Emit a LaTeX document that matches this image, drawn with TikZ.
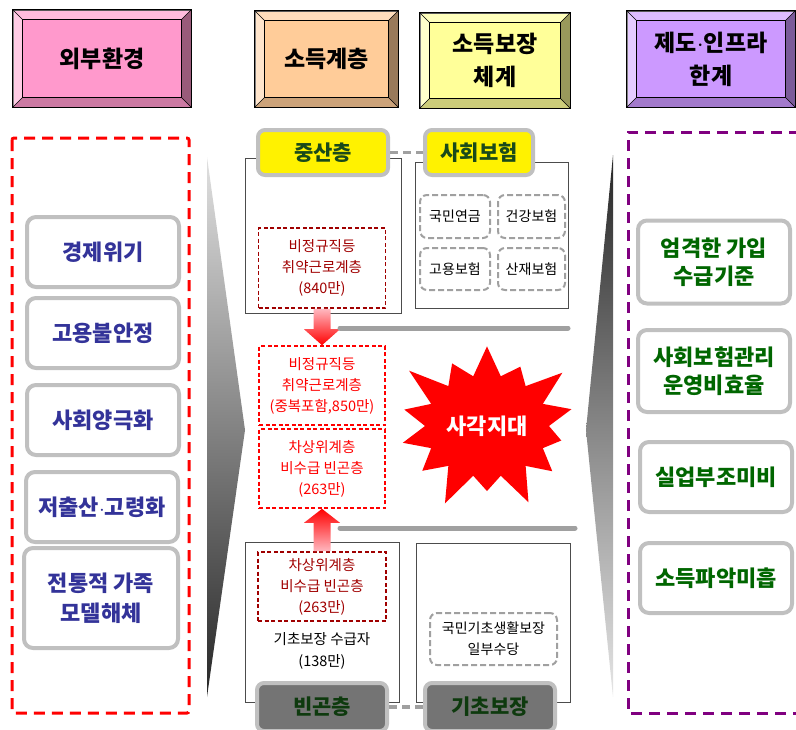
\documentclass[tikz,border=0pt]{standalone}
\usepackage{fontspec}
\setmainfont{Noto Sans CJK KR}
\usetikzlibrary{shapes.symbols,calc}
\definecolor{envpink}{HTML}{FF99CC}
\definecolor{incorange}{HTML}{FFCC99}
\definecolor{secyellow}{HTML}{FFFF99}
\definecolor{instpurple}{HTML}{CC99FF}
\definecolor{frame}{HTML}{C0C0C0}
\definecolor{envblue}{HTML}{333399}
\definecolor{limgreen}{HTML}{006600}
\definecolor{tiergreen}{HTML}{1A4A1A}
\definecolor{darkgreen}{HTML}{0E3A0E}
\definecolor{darkred}{HTML}{A00000}
\definecolor{dashgray}{HTML}{A0A0A0}
\definecolor{poorgray}{HTML}{747474}
\definecolor{arrowpink}{HTML}{FFB8C0}
\definecolor{violet}{HTML}{800080}

\begin{document}
\begin{tikzpicture}[x=1pt,y=-1pt,
  hdr/.style={draw=black,line width=0.6pt,align=center,inner sep=0pt,font=\fontsize{23}{33}\selectfont\bfseries},
  envbox/.style={draw=frame,line width=4pt,rounded corners=9pt,fill=white,minimum width=152pt,minimum height=70pt,align=center,text=envblue,font=\fontsize{22}{29}\selectfont\bfseries},
  limbox/.style={envbox,text=limgreen},
  layer/.style={draw=black!70,line width=0.8pt},
  tier/.style={draw=frame,line width=4pt,rounded corners=7pt,minimum height=45pt,font=\fontsize{21}{24}\selectfont\bfseries},
  link/.style={draw=dashgray,line width=3.5pt,dash pattern=on 8pt off 5pt},
  gapbox/.style={draw=red,line width=1.6pt,dash pattern=on 4pt off 2.5pt,align=center,text=red,minimum width=126pt,minimum height=79pt,font=\fontsize{14.5}{21}\selectfont},
  oldbox/.style={gapbox,draw=darkred,text=darkred},
  insbox/.style={draw=dashgray,line width=2pt,dash pattern=on 6pt off 3pt,rounded corners=7pt,align=center,font=\fontsize{14}{21}\selectfont},
  sep/.style={draw=dashgray,line width=5pt,line cap=round}
]
\useasboundingbox (0,0) rectangle (796,729);

% headers
\node[hdr,fill=envpink,minimum width=178pt,minimum height=97pt] (env) at (102,58.5) {외부환경};
\node[hdr,fill=incorange,minimum width=143pt,minimum height=96pt] (inc) at (326.5,59) {소득계층};
\node[hdr,fill=secyellow,minimum width=150pt,minimum height=95pt] (sec) at (495,60.5) {소득보장\\체계};
\node[hdr,fill=instpurple,minimum width=168pt,minimum height=96pt] (inst) at (711,59) {제도$\cdot$인프라\\한계};
\foreach \n in {env,inc,sec,inst}{
  \fill[white,opacity=.35] (\n.north west) -- (\n.north east) -- ([shift={(-10pt,-10pt)}]\n.north east) -- ([shift={(10pt,-10pt)}]\n.north west) -- cycle;
  \fill[white,opacity=.5] (\n.north west) -- ([shift={(10pt,-10pt)}]\n.north west) -- ([shift={(10pt,10pt)}]\n.south west) -- (\n.south west) -- cycle;
  \fill[black,opacity=.2] (\n.south west) -- ([shift={(10pt,10pt)}]\n.south west) -- ([shift={(-10pt,10pt)}]\n.south east) -- (\n.south east) -- cycle;
  \fill[black,opacity=.4] (\n.north east) -- ([shift={(-10pt,-10pt)}]\n.north east) -- ([shift={(-10pt,10pt)}]\n.south east) -- (\n.south east) -- cycle;
  \draw[line width=0.6pt] ([shift={(10pt,-10pt)}]\n.north west) rectangle ([shift={(-10pt,10pt)}]\n.south east);
  \draw[line width=0.5pt] (\n.north west) -- ([shift={(10pt,-10pt)}]\n.north west)
    (\n.north east) -- ([shift={(-10pt,-10pt)}]\n.north east)
    (\n.south west) -- ([shift={(10pt,10pt)}]\n.south west)
    (\n.south east) -- ([shift={(-10pt,10pt)}]\n.south east);
  \draw[line width=0.6pt] (\n.north west) rectangle (\n.south east);
}

% wedges
\shade[top color=black!12,bottom color=black!85] (207,157) -- (245,430) -- (207,697) -- cycle;
\shade[top color=black!85,bottom color=black!10] (613,155) -- (586,430) -- (613,697) -- cycle;

% outside environment
\draw[red,line width=3pt,dash pattern=on 11pt off 7pt,rounded corners=2pt] (12,138) rectangle (189,713);
\node[envbox] (crisis) at (103,252) {경제위기};
\node[envbox] (job) at (103,333) {고용불안정};
\node[envbox] (polar) at (103,420) {사회양극화};
\node[envbox] (aging) at (102,507) {저출산$\cdot$고령화};
\node[envbox,minimum width=154pt,minimum height=100pt,font=\fontsize{22}{30}\selectfont\bfseries] (family) at (101,598) {전통적 가족\\모델해체};

% institutional limits
\draw[violet,line width=3pt,dash pattern=on 11pt off 7pt] (800,132) -- (628,132) -- (628,713) -- (800,713);
\node[limbox,minimum height=83pt,font=\fontsize{22}{28}\selectfont\bfseries] (strict) at (714,262) {엄격한 가입\\수급기준};
\node[limbox,minimum height=82pt,font=\fontsize{22}{28}\selectfont\bfseries] (admin) at (714,371) {사회보험관리\\운영비효율};
\node[limbox] (unemp) at (716,477) {실업부조미비};
\node[limbox] (income) at (716,578) {소득파악미흡};

% middle class / social insurance
\draw[layer] (245,158) rectangle (401,313);
\draw[layer] (415,162) rectangle (568,308);
\node[tier,fill=yellow,minimum width=130pt,text=tiergreen] (mid) at (323,152.5) {중산층};
\node[tier,fill=yellow,minimum width=108pt,text=tiergreen] (soc) at (479,152.5) {사회보험};
\draw[link] (mid) -- (soc);
\node[insbox,minimum width=70pt,minimum height=43pt] (pension) at (455,216.5) {국민연금};
\node[insbox,minimum width=67pt,minimum height=43pt] (health) at (531.5,216.5) {건강보험};
\node[insbox,minimum width=70pt,minimum height=42pt] (employ) at (455,269) {고용보험};
\node[insbox,minimum width=67pt,minimum height=42pt] (injury) at (531.5,269) {산재보험};
\node[oldbox,minimum width=127pt,minimum height=80pt] (vul840) at (322,268) {비정규직등\\취약근로계층\\(840만)};

% blind spot
\node[gapbox] (vul850) at (322,385.5) {비정규직등\\취약근로계층\\(중복포함,850만)};
\node[gapbox] (near1) at (322,468.5) {차상위계층\\비수급 빈곤층\\(263만)};
\shade[top color=arrowpink,bottom color=red] ([xshift=-8.5pt]vul840.south) -- ([xshift=-8.5pt,yshift=16pt]vul850.north) -- ([xshift=-18pt,yshift=16pt]vul850.north) -- (vul850.north) -- ([xshift=18pt,yshift=16pt]vul850.north) -- ([xshift=8.5pt,yshift=16pt]vul850.north) -- ([xshift=8.5pt]vul840.south) -- cycle;
\draw[sep] (340,328) -- (568,328);
\draw[sep] (340,528) -- (575,528);
\node[starburst,starburst points=14,starburst point height=40pt,fill=red,draw=none,minimum width=154pt,minimum height=182pt,text=white,font=\fontsize{22}{24}\selectfont\bfseries] (gap) at (487,426) {사각지대};

% poor / basic security
\draw[layer] (245,542) rectangle (399,702);
\draw[layer] (416,543) rectangle (570,702);
\node[oldbox,minimum width=128pt,minimum height=69pt] (near2) at (322,586.5) {차상위계층\\비수급 빈곤층\\(263만)};
\shade[top color=red,bottom color=arrowpink] ([xshift=-8.5pt]near2.north) -- ([xshift=-8.5pt,yshift=-14pt]near1.south) -- ([xshift=-18pt,yshift=-14pt]near1.south) -- (near1.south) -- ([xshift=18pt,yshift=-14pt]near1.south) -- ([xshift=8.5pt,yshift=-14pt]near1.south) -- ([xshift=8.5pt]near2.north) -- cycle;
\node[align=center,font=\fontsize{14.5}{22}\selectfont] (recip) at (322,651) {기초보장 수급자\\(138만)};
\node[insbox,minimum width=127pt,minimum height=52pt] (nbls) at (493.5,639) {국민기초생활보장\\일부수당};
\node[tier,fill=poorgray,minimum width=130pt,minimum height=48pt,text=darkgreen] (poor) at (322,707) {빈곤층};
\node[tier,fill=poorgray,minimum width=130pt,minimum height=48pt,text=darkgreen] (basic) at (490,707) {기초보장};
\draw[link] (poor) -- (basic);
\end{tikzpicture}
\end{document}
